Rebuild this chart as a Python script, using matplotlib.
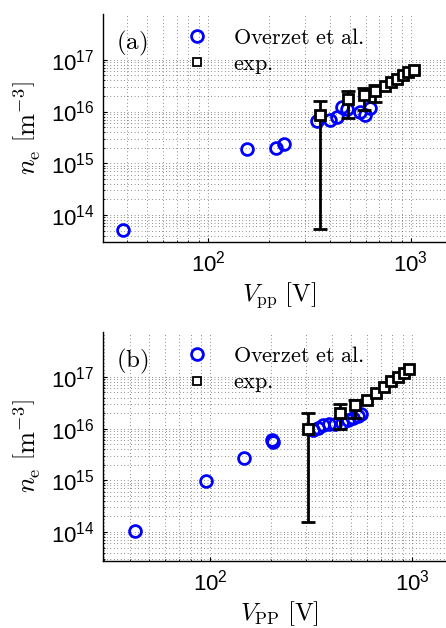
import matplotlib
matplotlib.use('Agg')
import matplotlib.pyplot as plt
from matplotlib.ticker import FixedLocator, LogFormatterSciNotation, NullFormatter
from matplotlib.font_manager import FontProperties
import numpy as np

plt.rcParams['font.family'] = 'Liberation Sans'
plt.rcParams['mathtext.fontset'] = 'custom'
plt.rcParams['mathtext.rm'] = 'Liberation Sans'
plt.rcParams['mathtext.it'] = 'Liberation Sans:italic'

# (a) Overzet et al.
a_ov_v = [38, 156, 216, 237, 344, 399, 432, 457, 484, 561, 593, 628]
a_ov_n = [5.1e13, 1.87e15, 1.96e15, 2.4e15, 6.7e15, 7.0e15, 8.0e15, 1.25e16,
          1.14e16, 9.6e15, 8.7e15, 1.19e16]
# (a) exp.
a_ex_v = [356, 490, 587, 668, 745, 802, 857, 917, 967, 1035]
a_ex_n = [8.6e15, 1.71e16, 2.08e16, 2.5e16, 3.18e16, 3.75e16, 4.29e16,
          5.03e16, 5.75e16, 6.5e16]
a_err_v = [356, 490, 587, 668]
a_err_n = [8.6e15, 1.71e16, 2.08e16, 2.5e16]
a_err_lo = [5.4e13, 7.6e15, 1.05e16, 1.56e16]
a_err_hi = [1.58e16, 2.47e16, 2.91e16, 3.3e16]

# (b) Overzet et al.
b_ov_v = [42.6, 96, 148, 203, 205, 324, 343, 363, 388, 416, 450, 482, 510, 540, 560]
b_ov_n = [1.03e14, 9.6e14, 2.7e15, 5.9e15, 5.5e15, 9.4e15, 1.02e16, 1.17e16,
          1.22e16, 1.22e16, 1.28e16, 1.46e16, 1.6e16, 1.75e16, 1.9e16]
# (b) exp.
b_ex_v = [304, 438, 522, 598, 665, 727, 788, 849, 910, 966]
b_ex_n = [9.8e15, 1.97e16, 2.91e16, 3.56e16, 4.9e16, 6.4e16, 8.2e16,
          9.9e16, 1.17e17, 1.4e17]
b_err_v = [304, 438, 522]
b_err_n = [9.8e15, 1.97e16, 2.91e16]
b_err_lo = [1.57e14, 9.8e15, 1.63e16]
b_err_hi = [1.97e16, 2.98e16, 3.56e16]

y_major = [1e14, 1e15, 1e16, 1e17]
y_minor = [m * 10.0**e for e in range(13, 17) for m in range(2, 10)]
x_major = [1e2, 1e3]
x_minor = [m * 10.0**e for e in range(1, 4) for m in range(2, 10)]

fig = plt.figure(figsize=(4.46, 6.28), dpi=100)
W, H = 446, 628

panels = [
    dict(box=(103, 14, 455, 242), xlim=(30.4, 1650), ylim=(3.0e13, 7.7e17),
         tag='(a)', xlab=r'$V_{\mathrm{pp}}\ [\mathrm{V}]$',
         ov=(a_ov_v, a_ov_n), ex=(a_ex_v, a_ex_n),
         err=(a_err_v, a_err_n, a_err_lo, a_err_hi)),
    dict(box=(103, 332, 455, 561), xlim=(29.5, 1632), ylim=(2.75e13, 7.4e17),
         tag='(b)', xlab=r'$V_{\mathrm{PP}}\ [\mathrm{V}]$',
         ov=(b_ov_v, b_ov_n), ex=(b_ex_v, b_ex_n),
         err=(b_err_v, b_err_n, b_err_lo, b_err_hi)),
]

cm_prop = FontProperties(size=16, math_fontfamily='cm')

for p in panels:
    x0, y0, x1, y1 = p['box']
    ax = fig.add_axes([x0 / W, 1 - y1 / H, (x1 - x0) / W, (y1 - y0) / H])
    ax.set_xscale('log')
    ax.set_yscale('log')
    ax.set_xlim(*p['xlim'])
    ax.set_ylim(*p['ylim'])

    ax.xaxis.set_major_locator(FixedLocator(x_major))
    ax.xaxis.set_minor_locator(FixedLocator(x_minor))
    ax.yaxis.set_major_locator(FixedLocator(y_major))
    ax.yaxis.set_minor_locator(FixedLocator(y_minor))
    ax.xaxis.set_major_formatter(LogFormatterSciNotation())
    ax.yaxis.set_major_formatter(LogFormatterSciNotation())
    ax.xaxis.set_minor_formatter(NullFormatter())
    ax.yaxis.set_minor_formatter(NullFormatter())
    ax.grid(True, which='both', color='0.15', linestyle=(0, (1, 4)), linewidth=0.5)
    ax.set_axisbelow(True)

    for s in ['top', 'right']:
        ax.spines[s].set_visible(False)
    ax.spines['left'].set_linewidth(1.0)
    ax.spines['bottom'].set_linewidth(1.0)
    ax.tick_params(which='both', direction='in', labelsize=16)
    ax.tick_params(which='major', length=3, pad=6)
    ax.tick_params(which='minor', length=1.5)

    ev, en, elo, ehi = p['err']
    en = np.array(en)
    ax.errorbar(ev, en, yerr=[en - np.array(elo), np.array(ehi) - en], fmt='none',
                ecolor='black', elinewidth=2, capsize=5, capthick=2, zorder=3)
    ax.plot(p['ov'][0], p['ov'][1], 'o', ms=8.5, mfc='none', mec='blue', mew=2,
            label=r'$\mathrm{Overzet\ et\ al.}$', zorder=2)
    ax.plot(p['ex'][0], p['ex'][1], 's', ms=7, mfc='white', mec='black', mew=2,
            label=r'$\mathrm{exp.}$', zorder=4)

    leg = ax.legend(loc='upper left', bbox_to_anchor=((186 - x0) / (x1 - x0), 0.94),
                    frameon=False, prop=cm_prop, borderpad=0, borderaxespad=0,
                    labelspacing=0.25, handlelength=1.0, handletextpad=1.1)
    leg.legend_handles[1].set_markersize(6)
    leg.legend_handles[1].set_markeredgewidth(1.3)
    ax.text(0.037, 0.873, r'$\mathrm{%s}$' % p['tag'], transform=ax.transAxes,
            fontsize=18, va='center', ha='left', math_fontfamily='cm')
    ax.set_xlabel(p['xlab'], fontsize=18, math_fontfamily='cm', labelpad=3)
    ax.set_ylabel(r'$n_{\mathrm{e}}\ \left[\mathrm{m}^{-3}\right]$', fontsize=19,
                  math_fontfamily='cm', labelpad=6)

fig.savefig('out.png', dpi=100)
